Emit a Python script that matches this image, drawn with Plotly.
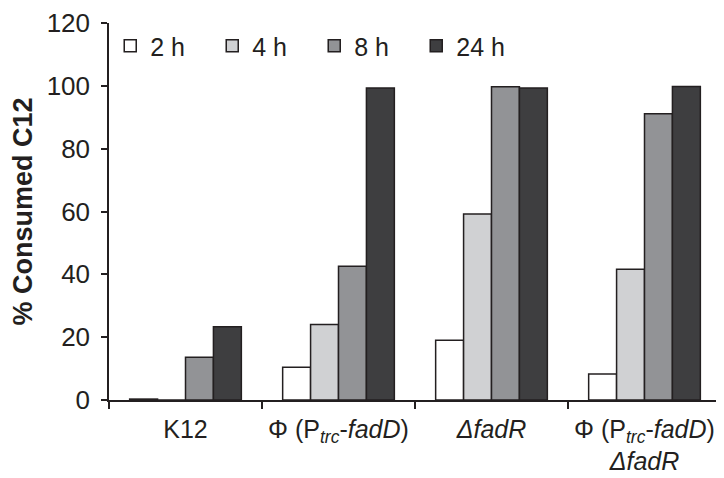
import plotly.graph_objects as go

strains = [
    "K12",
    "Φ (P<sub><i>trc</i></sub>-<i>fadD</i>)",
    "<i>ΔfadR</i>",
    "Φ (P<sub><i>trc</i></sub>-<i>fadD</i>)<br><i>ΔfadR</i>",
]
times = ["2 h", "4 h", "8 h", "24 h"]

c12_2h = [0.3, 10.4, 19.0, 8.3]
c12_4h = [0.0, 24.0, 59.2, 41.6]
c12_8h = [13.6, 42.6, 99.7, 91.1]
c12_24h = [23.3, 99.3, 99.3, 99.8]

series = [c12_2h, c12_4h, c12_8h, c12_24h]
fills = ["#ffffff", "#d0d1d3", "#929396", "#3e3e40"]
INK = "#231f20"
FONT = "Liberation Sans, Arial, sans-serif"

fig = go.Figure()
for name, vals, col in zip(times, series, fills):
    fig.add_trace(go.Bar(
        x=strains,
        y=vals,
        name=name,
        marker=dict(color=col, line=dict(color=INK, width=1.5)),
    ))

fig.update_layout(
    width=724,
    height=478,
    barmode="group",
    bargap=0.27,
    bargroupgap=0,
    plot_bgcolor="white",
    paper_bgcolor="white",
    font=dict(family=FONT, size=25, color=INK),
    margin=dict(l=101, r=11, t=15, b=86),
    showlegend=True,
    legend=dict(
        orientation="h",
        x=0.002, y=1.0, xanchor="left", yanchor="top",
        font=dict(size=25),
        itemwidth=30,
        entrywidth=57,
        entrywidthmode="pixels",
        bgcolor="rgba(0,0,0,0)",
        traceorder="normal",
    ),
)
fig.update_xaxes(
    automargin=False,
    showline=True, linecolor=INK, linewidth=1.5,
    ticks="outside", tickson="boundaries", ticklen=7, tickcolor=INK, tickwidth=1.5,
    tickfont=dict(size=25),
    ticklabelstandoff=6,
    showgrid=False,
)
fig.update_yaxes(
    automargin=False,
    range=[0, 120], dtick=20,
    showline=True, linecolor=INK, linewidth=1.5,
    ticks="outside", ticklen=6, tickcolor=INK, tickwidth=1.5,
    tickfont=dict(size=26),
    ticklabelstandoff=6,
    ticklabeloverflow="allow",
    showgrid=False, zeroline=False,
    title=dict(text="<b>% Consumed C12</b>", font=dict(size=27), standoff=8),
)

fig.write_html("out.html")
